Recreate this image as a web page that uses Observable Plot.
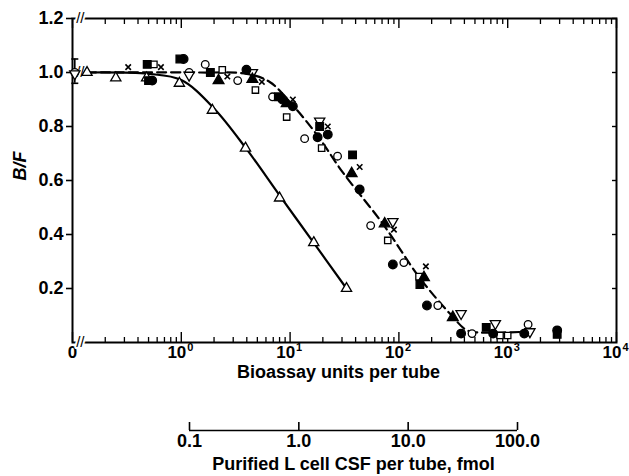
<!DOCTYPE html>
<html><head><meta charset="utf-8">
<script src="https://cdn.jsdelivr.net/npm/d3@7"></script>
<script src="https://cdn.jsdelivr.net/npm/@observablehq/plot@0.6"></script>
<style>
body{margin:0;background:#fff;}
#chart{width:629px;height:476px;overflow:hidden;}
#chart svg{display:block;}
</style></head><body><div id="chart"></div>
<script>
// ---- axis / tick definitions ----
const yTicks = [0.2, 0.4, 0.6, 0.8, 1.0, 1.2];
const xTicksMajor = [0.1, 1, 10, 100, 1000, 10000];
const xTickBase = ["0", "10", "10", "10", "10", "10"];
const xTickExp = ["", "0", "1", "2", "3", "4"];
const xTicksMinor = [2,3,4,5,6,7,8,9].flatMap(k => [0.1, 1, 10, 100, 1000].map(d => k * d));
const fmolTicks = [0.1, 1, 10, 100];
const fmolLabels = ["0.1", "1.0", "10.0", "100.0"];
const xTitle = "Bioassay units per tube";
const yTitle = "B/F";
const fmolTitle = "Purified L cell CSF per tube, fmol";
const breakX = [0.118, 0.118, 0.118];
const breakY = [1.2, 0, 1.0];

// ---- data: [bioassay units, B/F] ----
const zeroErr = [[0.105, 0.96, 1.05]];
const openTriangle = [[0.136,1.0],[0.25,0.98],[0.48,0.98],[0.96,0.96],[1.93,0.86],[3.89,0.72],[8.0,0.535],[16.5,0.37],[33,0.20]];
const solidFit = [[0.136,1.0],[0.5,0.995],[1.0,0.972],[2,0.867],[4,0.715],[8,0.545],[16.5,0.369],[33,0.2]];
const dashedFit = [[0.136,1.0],[1.5,1.0],[4.0,0.995],[6.5,0.965],[10.5,0.88],[17.6,0.77],[30.5,0.63],[71,0.44],[155,0.24],[294,0.107],[423,0.045],[560,0.037],[1500,0.04]];
const filledCircle = [[0.54,0.97],[1.05,1.05],[3.97,1.01],[8.5,0.90],[10.6,0.875],[17.9,0.76],[22.2,0.77],[43.6,0.567],[88,0.289],[181,0.137],[373,0.033],[735,0.033],[1420,0.033],[2850,0.045]];
const filledSquare = [[0.486,1.03],[0.5,0.97],[0.97,1.05],[1.85,1.0],[7.8,0.91],[18.7,0.80],[37.5,0.695],[156,0.215],[635,0.056],[2850,0.03]];
const openCircle = [[0.105,1.0],[1.18,1.0],[1.66,1.03],[3.3,0.97],[6.9,0.91],[13.6,0.755],[27.3,0.69],[55,0.433],[111,0.296],[228,0.137],[470,0.033],[1540,0.067]];
const openSquare = [[0.56,1.03],[2.38,1.01],[4.8,0.935],[9.3,0.835],[19.5,0.72],[79,0.378],[153,0.244],[850,0.026],[1000,0.026]];
const filledTriangle = [[2.2,0.97],[4.5,0.975],[9.3,0.885],[36.8,0.626],[74,0.44],[170,0.241],[313,0.093]];
const crosses = [[0.325,1.02],[0.65,1.02],[2.65,0.985],[5.5,0.965],[10.6,0.90],[22.2,0.80],[43.6,0.65],[90,0.418],[177,0.282]];
const invTriangle = [[0.105,0.995],[1.18,0.99],[4.5,1.0],[18.7,0.82],[88,0.448],[373,0.107],[770,0.07],[1600,0.04]];

// ---- custom symbols ----
const sqrt3 = Math.sqrt(3);
const symbolInvTriangle = {draw(ctx, size) {
  const y = -Math.sqrt(size / (sqrt3 * 3));
  ctx.moveTo(0, -y * 2); ctx.lineTo(-sqrt3 * y, y); ctx.lineTo(sqrt3 * y, y); ctx.closePath();
}};
const symbolHLine = {draw(ctx, size) {
  const r = Math.sqrt(size / Math.PI);
  ctx.moveTo(-r, 0); ctx.lineTo(r, 0);
}};

const font = "'Liberation Sans', Arial, sans-serif";
const style = {fontFamily: font, fontWeight: "bold", fontSize: "18px", background: "white", color: "black", overflow: "visible"};

function pts(data, symbol, filled, r) {
  return Plot.dot(data, {x: d => d[0], y: d => d[1], symbol, r,
    fill: filled ? "black" : "white", stroke: "black", strokeWidth: 1.3});
}

const idx = d3.range(xTicksMajor.length);

const main = Plot.plot({
  width: 629, height: 400,
  marginLeft: 72, marginRight: 13, marginTop: 18, marginBottom: 58,
  style,
  x: {type: "log", domain: [0.1, 10000]},
  y: {domain: [0, 1.2]},
  marks: [
    Plot.frame({stroke: "black", strokeWidth: 2}),
    // left axis (outward ticks + labels)
    Plot.axisY({ticks: yTicks, tickSize: 6, tickPadding: 3, strokeWidth: 1.6,
      tickFormat: d3.format(".1f"), label: null, fontSize: 18}),
    // right axis inward ticks
    Plot.axisY({anchor: "right", ticks: yTicks, tickSize: 5, dx: -5, strokeWidth: 1.4,
      tickFormat: () => "", label: null}),
    // bottom inward ticks
    Plot.axisX({anchor: "bottom", ticks: xTicksMajor, tickSize: 10, dy: -10, strokeWidth: 1.4, tickFormat: () => "", label: null}),
    Plot.axisX({anchor: "bottom", ticks: xTicksMinor, tickSize: 5, dy: -5, strokeWidth: 1.3, tickFormat: () => "", label: null}),
    // top inward ticks
    Plot.axisX({anchor: "top", ticks: xTicksMajor, tickSize: 9, dy: 9, strokeWidth: 1.4, tickFormat: () => "", label: null}),
    Plot.axisX({anchor: "top", ticks: xTicksMinor, tickSize: 5, dy: 5, strokeWidth: 1.3, tickFormat: () => "", label: null}),
    // x tick labels: base and exponent
    Plot.text(idx, {x: i => xTicksMajor[i], text: i => xTickBase[i],
      frameAnchor: "bottom", lineAnchor: "top", dy: 3, fontSize: 17, textAnchor: "middle",
      filter: i => xTickExp[i] === ""}),
    Plot.text(idx, {x: i => xTicksMajor[i], text: i => xTickBase[i],
      frameAnchor: "bottom", lineAnchor: "top", dy: 3, fontSize: 17, textAnchor: "end", dx: 5,
      filter: i => xTickExp[i] !== ""}),
    Plot.text(idx, {x: i => xTicksMajor[i], text: i => xTickExp[i],
      frameAnchor: "bottom", lineAnchor: "top", dy: 1, fontSize: 11, textAnchor: "start", dx: 6,
      filter: i => xTickExp[i] !== ""}),
    // axis titles
    Plot.text([xTitle], {frameAnchor: "bottom", lineAnchor: "top", dy: 23, dx: -6, fontSize: 18}),
    Plot.text([yTitle], {frameAnchor: "left", dx: -52, rotate: -90, fontSize: 18, fontStyle: "italic"}),
    // fitted curves
    Plot.line(dashedFit, {x: d => d[0], y: d => d[1], curve: "catmull-rom", stroke: "black", strokeWidth: 2.2, strokeDasharray: "9,5"}),
    Plot.line(solidFit, {x: d => d[0], y: d => d[1], curve: "catmull-rom", stroke: "black", strokeWidth: 2.2}),
    // zero-dose error bar
    Plot.ruleX(zeroErr, {x: d => d[0], y1: d => d[1], y2: d => d[2], strokeWidth: 1.6}),
    Plot.dot(zeroErr, {x: d => d[0], y: d => d[1], symbol: symbolHLine, r: 3.5, stroke: "black", strokeWidth: 1.6}),
    Plot.dot(zeroErr, {x: d => d[0], y: d => d[2], symbol: symbolHLine, r: 3.5, stroke: "black", strokeWidth: 1.6}),
    // axis / curve breaks
    Plot.text(d3.range(breakX.length), {x: i => breakX[i], y: i => breakY[i], text: () => "//",
      fontSize: 15, fontWeight: "normal", fill: "black", stroke: "white", strokeWidth: 4}),
    // data points
    pts(openTriangle, "triangle", false, 3.8),
    pts(openCircle, "circle", false, 3.8),
    pts(openSquare, "square", false, 3.6),
    pts(invTriangle, symbolInvTriangle, false, 3.8),
    pts(filledSquare, "square", true, 4.3),
    pts(filledCircle, "circle", true, 4.3),
    pts(filledTriangle, "triangle", true, 4.0),
    Plot.dot(crosses, {x: d => d[0], y: d => d[1], symbol: "times", r: 2.6, stroke: "black", strokeWidth: 1.6})
  ]
});

const second = Plot.plot({
  width: 629, height: 76,
  marginLeft: 189, marginRight: 112, marginTop: 0, marginBottom: 46,
  style,
  x: {type: "log", domain: [0.1, 100]},
  y: {domain: [0, 1], axis: null},
  marks: [
    Plot.ruleY([0], {strokeWidth: 1.6}),
    Plot.axisX({ticks: fmolTicks, tickSize: 8, dy: -8, strokeWidth: 1.6, tickFormat: () => "", label: null}),
    Plot.axisX({ticks: fmolTicks, tickSize: 0, tickPadding: 4, tickFormat: d => fmolLabels[fmolTicks.indexOf(d)], label: null, fontSize: 18}),
    Plot.text([fmolTitle], {frameAnchor: "bottom", lineAnchor: "top", dy: 27, fontSize: 18})
  ]
});

document.getElementById("chart").append(main, second);
</script>
</body></html>
